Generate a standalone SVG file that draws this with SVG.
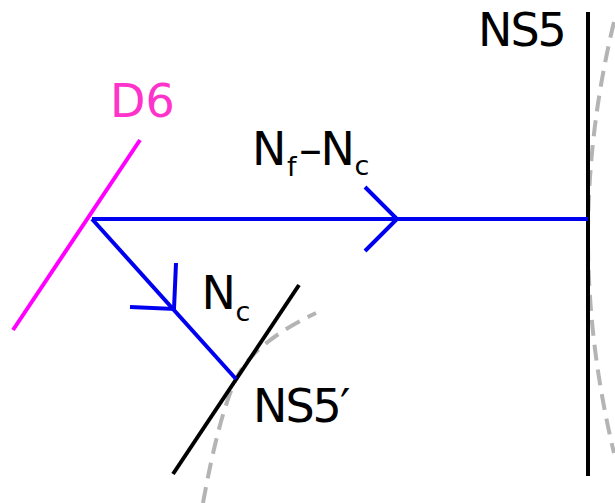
<svg xmlns="http://www.w3.org/2000/svg" width="615" height="503" viewBox="0 0 615 503">
<style>
text{font-family:"DejaVu Sans","Liberation Sans",sans-serif;fill:#000}
.big{font-size:46px}
.sub{font-size:27px}
.tight{letter-spacing:-2px}
.brane{fill:none;stroke:#000;stroke-width:4}
.dash{fill:none;stroke:#b4b4b4;stroke-width:4;stroke-dasharray:16 9}
.str{fill:none;stroke:#0000f0;stroke-width:4}
</style>
<rect width="615" height="503" fill="#fff"/>
<g id="D6">
<line x1="13" y1="330" x2="140" y2="140" stroke="#ff00ff" stroke-width="4"/>
<text class="big" x="110" y="117" style="fill:#ff33cc">D6</text>
</g>
<g id="NS5">
<path class="dash" d="M614,22 Q562,237 614,453"/>
<line class="brane" x1="588" y1="12" x2="588" y2="476"/>
<text class="big tight" x="478" y="46">NS5</text>
</g>
<g id="NS5prime">
<path class="dash" d="M203,503 Q219,415 236,379 T316,313"/>
<line class="brane" x1="173" y1="474" x2="299" y2="285"/>
<text class="big tight" x="253" y="422">NS5′</text>
</g>
<g id="connectors">
<g id="string-Nf-Nc">
<line class="str" x1="92" y1="219" x2="588" y2="219"/>
<polyline class="str" points="365,187 397,219 365,251"/>
<text><tspan class="big" x="252" y="165">N</tspan><tspan class="sub" x="287" y="176">f</tspan><tspan class="big" x="299" y="165">–</tspan><tspan class="big" x="320.5" y="165">N</tspan><tspan class="sub" x="354.5" y="175">c</tspan></text>
</g>
<g id="string-Nc">
<line class="str" x1="92" y1="219" x2="236" y2="379"/>
<polyline class="str" points="176,263 174,309 130,307"/>
<text><tspan class="big" x="201.5" y="309">N</tspan><tspan class="sub" x="235.5" y="321">c</tspan></text>
</g>
</g>
</svg>
